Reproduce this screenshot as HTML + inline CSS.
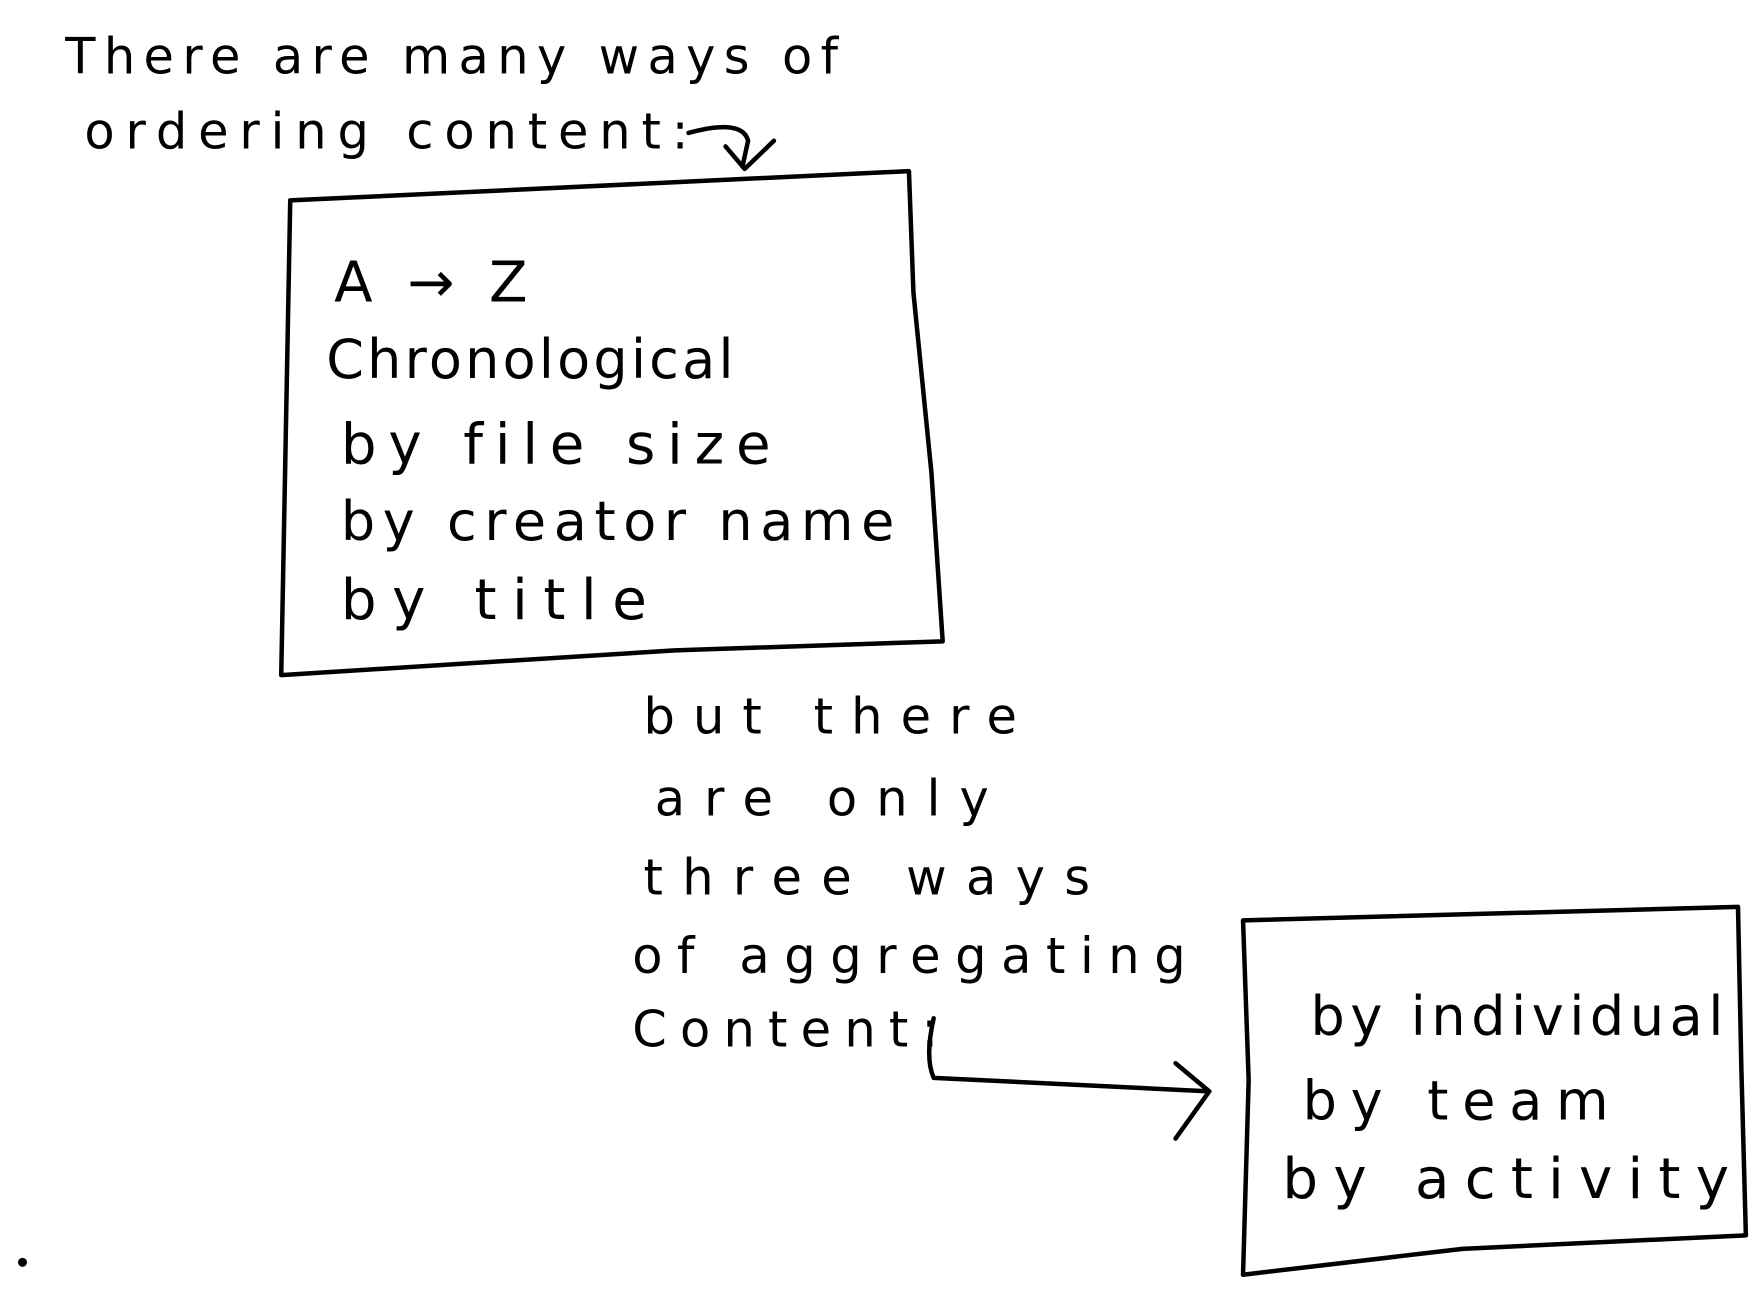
<!DOCTYPE html>
<html><head><meta charset="utf-8"><style>
html,body{margin:0;padding:0;background:#fff;}
svg{display:block}
text{font-family:"DejaVu Sans","Liberation Sans",sans-serif;fill:#000;font-weight:normal}
</style></head><body>
<svg width="1756" height="1294" viewBox="0 0 1561 1150" xmlns="http://www.w3.org/2000/svg">
<g fill="none" stroke="#000" stroke-width="4" stroke-linecap="round" stroke-linejoin="round">
<path d="M258 178 L808 152 L812 260 L828 420 L838 570 L600 578 L250 600 Z"/>
<path d="M1105 818 L1545 806 L1548 950 L1552 1098 L1300 1110 L1105 1133 L1110 960 Z"/>
<path d="M612 118 Q660 105 665 125 L660 148 M645 130 L662 150 L688 125"/>
<path d="M830 905 Q822 940 830 958 L1075 970 M1045 945 L1075 970 L1045 1012"/>
<circle cx="20" cy="1122" r="2" fill="#000"/>
</g>
<g font-size="44" letter-spacing="3">
<text x="58" y="65" textLength="690" lengthAdjust="spacing">There  are  many  ways  of</text>
<text x="75" y="132" textLength="540" lengthAdjust="spacing">ordering  content:</text>
<text x="297" y="268" font-size="50" textLength="175" lengthAdjust="spacing">A → Z</text>
<text x="290" y="336" font-size="48" textLength="365" lengthAdjust="spacing">Chronological</text>
<text x="303" y="412" font-size="50" textLength="385" lengthAdjust="spacing">by file size</text>
<text x="303" y="480" font-size="48" textLength="495" lengthAdjust="spacing">by creator name</text>
<text x="303" y="550" font-size="50" textLength="275" lengthAdjust="spacing">by title</text>
<text x="572" y="652" textLength="335" lengthAdjust="spacing">but  there</text>
<text x="582" y="725" textLength="300" lengthAdjust="spacing">are  only</text>
<text x="572" y="795" textLength="400" lengthAdjust="spacing">three  ways</text>
<text x="562" y="865" textLength="495" lengthAdjust="spacing">of  aggregating</text>
<text x="562" y="930" textLength="275" lengthAdjust="spacing">Content:</text>
<text x="1165" y="920" font-size="48" textLength="370" lengthAdjust="spacing">by individual</text>
<text x="1158" y="995" font-size="48" textLength="275" lengthAdjust="spacing">by  team</text>
<text x="1140" y="1065" font-size="50" textLength="400" lengthAdjust="spacing">by  activity</text>
</g>
</svg>
</body></html>
